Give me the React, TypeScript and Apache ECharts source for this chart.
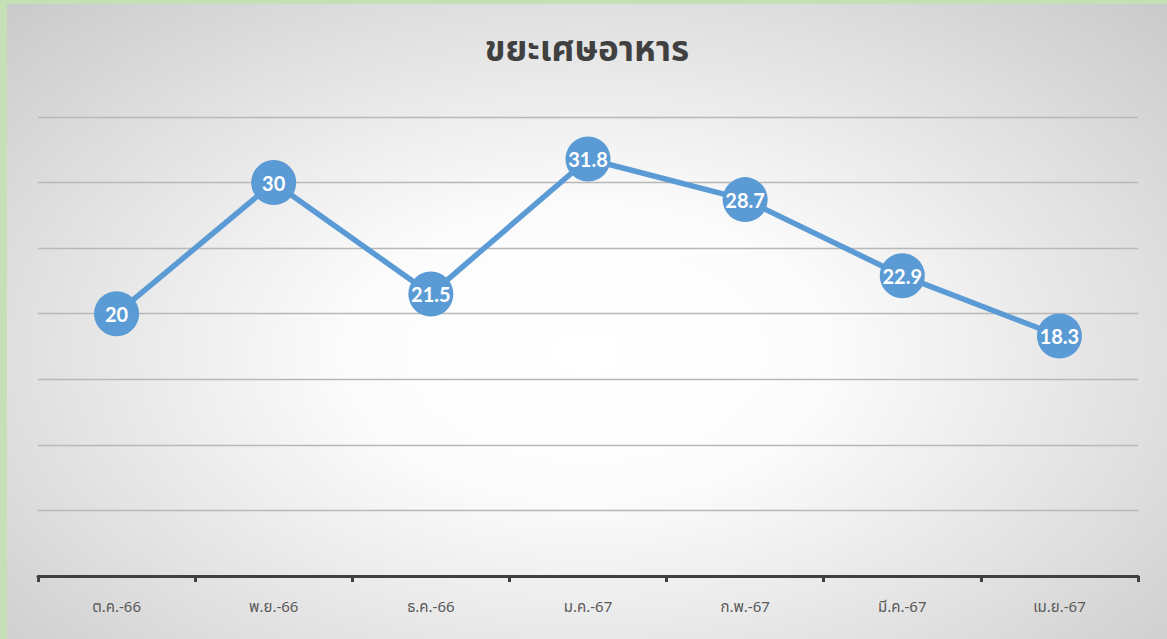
import React, { useEffect, useRef } from "react";
import * as echarts from "echarts";

const categories = ["ต.ค.-66", "พ.ย.-66", "ธ.ค.-66", "ม.ค.-67", "ก.พ.-67", "มี.ค.-67", "เม.ย.-67"];
const values = [20, 30, 21.5, 31.8, 28.7, 22.9, 18.3];
const titleText = "ขยะเศษอาหาร";

export default function App() {
  const ref = useRef<HTMLDivElement>(null);
  useEffect(() => {
    if (!ref.current) return;
    const chart = echarts.init(ref.current, null, { renderer: "svg" });
    chart.setOption({
      animation: false,
      title: {
        text: titleText,
        left: "center",
        top: 24,
        textStyle: {
          fontFamily: "Tahoma, 'Noto Sans Thai', 'Noto Sans', sans-serif",
          fontSize: 35,
          fontWeight: "bold",
          color: "#404040",
        },
      },
      grid: { left: 31, right: 29, top: 113, bottom: 63 },
      xAxis: {
        type: "category",
        data: categories,
        boundaryGap: true,
        axisLine: { show: true, lineStyle: { color: "#404040", width: 3 } },
        axisTick: { show: true, length: 6, lineStyle: { color: "#404040", width: 3 } },
        axisLabel: {
          color: "#595959",
          fontSize: 15,
          margin: 24,
          fontFamily: "Tahoma, 'Noto Sans Thai', 'Noto Sans', sans-serif",
        },
      },
      yAxis: {
        type: "value",
        min: 0,
        max: 35,
        interval: 5,
        axisLabel: { show: false },
        axisLine: { show: false },
        axisTick: { show: false },
        splitLine: { show: true, lineStyle: { color: "#b8b8b8", width: 1.3 } },
      },
      series: [
        {
          type: "line",
          data: values,
          symbol: "circle",
          symbolSize: 45,
          itemStyle: { color: "#5b9bd5" },
          lineStyle: { color: "#5b9bd5", width: 5.5 },
          label: {
            show: true,
            position: "inside",
            color: "#ffffff",
            fontSize: 20,
            fontWeight: "bold",
            fontFamily: "Lato, 'Open Sans', sans-serif",
          },
          z: 3,
        },
      ],
    });
    return () => chart.dispose();
  }, []);
  return (
    <div
      style={{
        position: "fixed",
        left: 0,
        top: 0,
        width: 1167,
        height: 639,
        background: "#c5e0b4",
      }}
    >
      <div
        ref={ref}
        style={{
          position: "absolute",
          left: 7,
          top: 4,
          width: 1160,
          height: 635,
          background:
            "radial-gradient(ellipse 72% 80% at 50% 55%, #ffffff 0%, #fcfcfc 28%, #e4e4e4 62%, #c8c8c8 100%)",
        }}
      />
    </div>
  );
}
